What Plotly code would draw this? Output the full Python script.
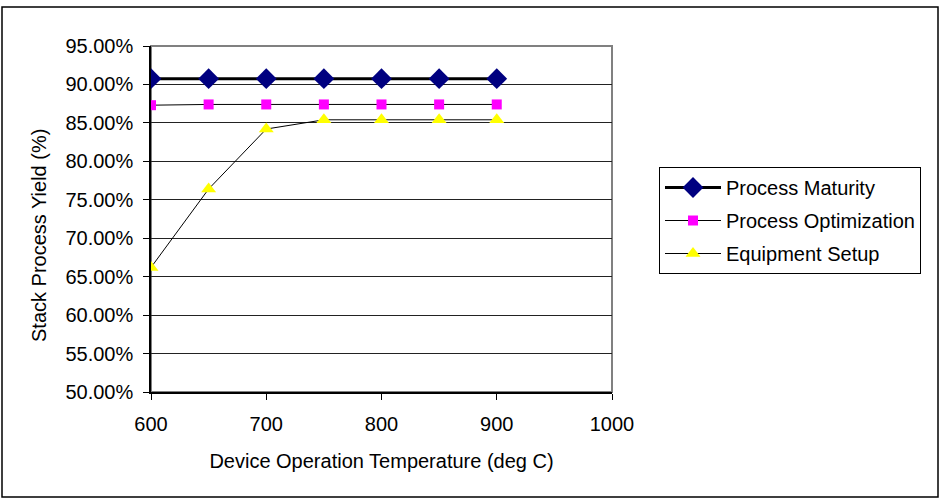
import plotly.graph_objects as go

temps = [600, 650, 700, 750, 800, 850, 900]
maturity = [0.9075, 0.9075, 0.9075, 0.9075, 0.9075, 0.9075, 0.9075]
optimization = [0.873, 0.874, 0.874, 0.874, 0.874, 0.874, 0.874]
equipment = [0.662, 0.764, 0.842, 0.854, 0.854, 0.854, 0.854]

W, H = 941, 500
L, R, T, B = 151, 329, 46, 108
pw, ph = W - L - R, H - T - B

fig = go.Figure()
fig.add_trace(go.Scatter(x=temps, y=maturity, name="Process Maturity", mode="lines+markers",
                         legendgroup="a",
                         line=dict(color="black", width=3),
                         marker=dict(symbol="diamond", size=16, color="#000080")))
fig.add_trace(go.Scatter(x=temps, y=optimization, name="Process Optimization", mode="lines+markers",
                         legendgroup="b",
                         line=dict(color="black", width=1),
                         marker=dict(symbol="square", size=10, color="#FF00FF")))
fig.add_trace(go.Scatter(x=temps, y=equipment, name="Equipment Setup", mode="lines+markers",
                         legendgroup="c",
                         line=dict(color="black", width=1),
                         marker=dict(symbol="triangle-up", size=13, color="#FFFF00")))

fam = "Liberation Sans, Arial, sans-serif"
font = dict(family=fam, size=20, color="black")

fig.update_layout(
    width=W, height=H,
    margin=dict(l=L, r=R, t=T, b=B),
    paper_bgcolor="white", plot_bgcolor="white",
    font=font,
    showlegend=True,
    legend=dict(x=(659 - L) / pw, y=(392 - 167) / ph, xanchor="left", yanchor="top",
                bordercolor="black", borderwidth=1, bgcolor="white",
                font=dict(family=fam, size=20, color="black"), itemwidth=56, tracegroupgap=4),
    xaxis=dict(range=[600, 1000], dtick=100, tick0=600, showgrid=False,
               showline=True, linecolor="black", linewidth=1.5, mirror=False,
               ticks="outside", ticklen=6, tickcolor="black", ticklabelstandoff=7,
               tickfont=dict(family=fam, size=20, color="black"),
               title=dict(text="Device Operation Temperature (deg C)", standoff=20,
                          font=dict(family=fam, size=20, color="black")),
               zeroline=False),
    yaxis=dict(range=[0.5, 0.95], dtick=0.05, tick0=0.5, tickformat=".2%",
               showgrid=True, gridcolor="#222222", gridwidth=1,
               showline=True, linecolor="black", linewidth=1.5,
               ticks="outside", ticklen=6, tickcolor="black", ticklabelstandoff=6,
               tickfont=dict(family=fam, size=20, color="black"),
               zeroline=False),
    annotations=[
        dict(text="Stack Process Yield (%)", textangle=-90, showarrow=False,
             xref="paper", yref="paper", x=(39 - L) / pw, y=(H - B - 236) / ph,
             xanchor="center", yanchor="middle",
             font=dict(family=fam, size=20, color="black")),
    ],
    shapes=[
        dict(type="rect", xref="paper", yref="paper", x0=0, x1=1, y0=0, y1=1,
             line=dict(color="#808080", width=2), layer="below"),
        dict(type="rect", xref="paper", yref="paper",
             x0=(2 - L) / pw, x1=(938 - L) / pw, y0=(H - B - 497) / ph, y1=(H - B - 7) / ph,
             line=dict(color="black", width=1.5)),
    ],
)

fig.write_html("out.html")
